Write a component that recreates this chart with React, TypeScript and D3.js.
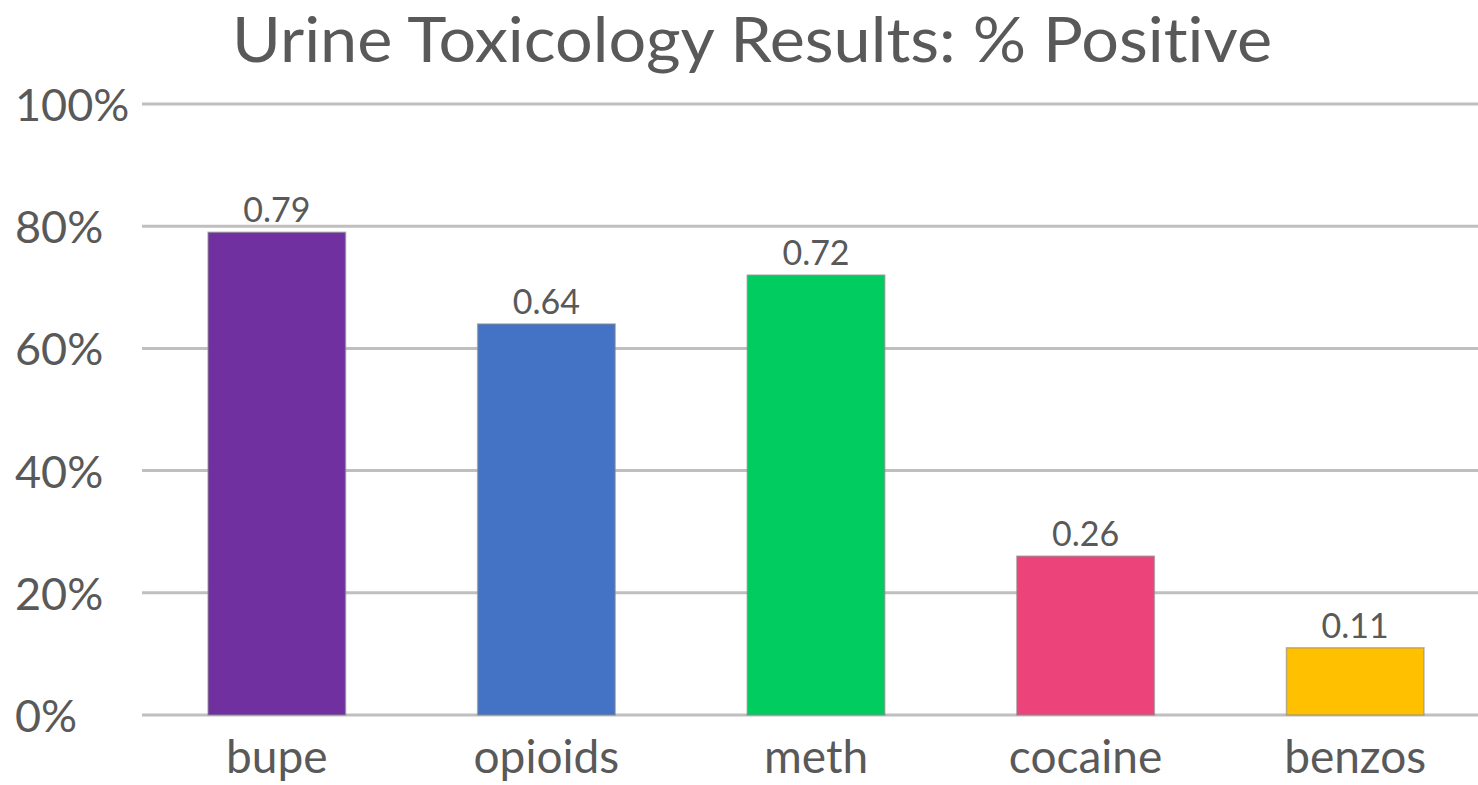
import React from "react";
import * as d3 from "d3";

const categories = ["bupe", "opioids", "meth", "cocaine", "benzos"];
const values = [0.79, 0.64, 0.72, 0.26, 0.11];
const colors = ["#7030A0", "#4472C4", "#00CC60", "#EB437A", "#FFC000"];
const yTicks = [0, 0.2, 0.4, 0.6, 0.8, 1.0];
const title = "Urine Toxicology Results: % Positive";

const W = 1478;
const H = 785;
const FONT = "Lato, 'Open Sans', sans-serif";
const TEXT = "#595959";

export default function App() {
  const x = d3
    .scaleBand<string>()
    .domain(categories)
    .range([142, 1490])
    .paddingInner(0.49)
    .paddingOuter(0.245);
  const y = d3.scaleLinear().domain([0, 1]).range([715, 104]);
  const pct = d3.format(".0%");

  return (
    <svg
      width={W}
      height={H}
      style={{ position: "fixed", left: 0, top: 0, background: "#fff", fontVariantLigatures: "none" }}
      fontFamily={FONT}
    >
      <rect width={W} height={H} fill="#fff" />
      <text
        x={752}
        y={62}
        textAnchor="middle"
        fontSize={61}
        fill={TEXT}
        textLength={1040}
        lengthAdjust="spacingAndGlyphs"
      >
        {title}
      </text>

      {yTicks.map((t) => (
        <g key={t}>
          <line x1={142} x2={W} y1={y(t)} y2={y(t)} stroke="#BFBFBF" strokeWidth={3} />
          <text x={15} y={y(t) + 17} fontSize={45} fill={TEXT}>
            {pct(t)}
          </text>
        </g>
      ))}

      {categories.map((c, i) => {
        const bx = x(c)!;
        const bw = x.bandwidth();
        const top = y(values[i]);
        return (
          <g key={c}>
            <rect
              x={bx}
              y={top}
              width={bw}
              height={y(0) - top}
              fill={colors[i]}
              stroke="#8a8a8a"
              strokeOpacity={0.6}
              strokeWidth={1.5}
            />
            <text x={bx + bw / 2} y={top - 10} textAnchor="middle" fontSize={34} fill={TEXT}>
              {values[i].toFixed(2)}
            </text>
            <text x={bx + bw / 2} y={773} textAnchor="middle" fontSize={46} fill={TEXT}>
              {c}
            </text>
          </g>
        );
      })}
    </svg>
  );
}
